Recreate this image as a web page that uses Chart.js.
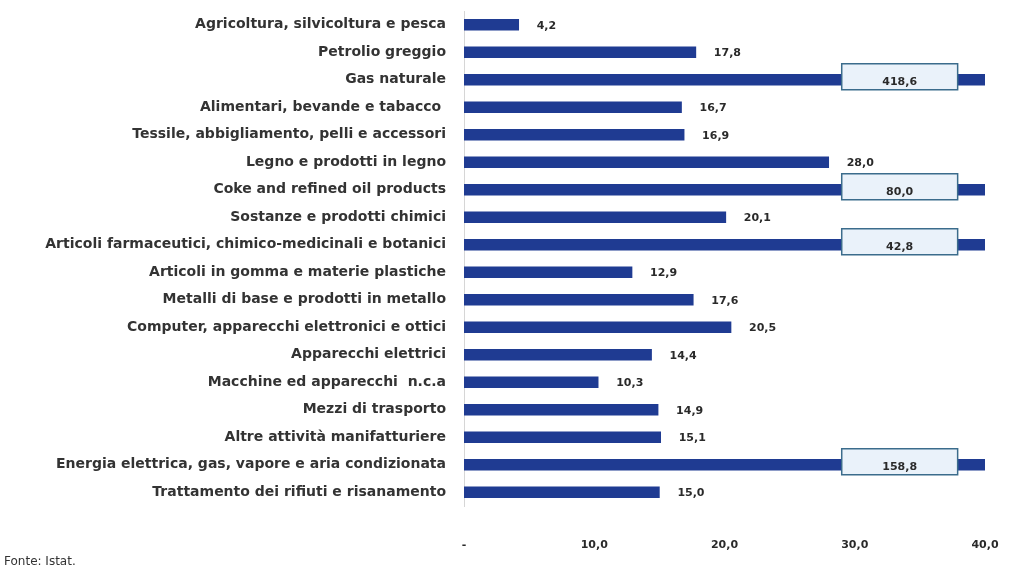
<!DOCTYPE html>
<html>
<head>
<meta charset="utf-8">
<script src="https://cdn.jsdelivr.net/npm/chart.js@4/dist/chart.umd.min.js"></script>
<style>
  html, body { margin: 0; padding: 0; background: #fff; }
  #wrap { position: relative; width: 1025px; height: 571px; }
  #fonte { position: absolute; left: 4px; top: 554px; font: 12px "DejaVu Sans", sans-serif; color: #333; }
</style>
</head>
<body>
<div id="wrap">
  <canvas id="chart"></canvas>
  <div id="fonte">Fonte: Istat.</div>
</div>
<script>
// settori (categorie)
var categories = [
    'Agricoltura, silvicoltura e pesca',
    'Petrolio greggio',
    'Gas naturale',
    'Alimentari, bevande e tabacco ',
    'Tessile, abbigliamento, pelli e accessori',
    'Legno e prodotti in legno',
    'Coke and refined oil products',
    'Sostanze e prodotti chimici',
    'Articoli farmaceutici, chimico-medicinali e botanici',
    'Articoli in gomma e materie plastiche',
    'Metalli di base e prodotti in metallo',
    'Computer, apparecchi elettronici e ottici',
    'Apparecchi elettrici',
    'Macchine ed apparecchi  n.c.a',
    'Mezzi di trasporto',
    'Altre attività manifatturiere',
    'Energia elettrica, gas, vapore e aria condizionata',
    'Trattamento dei rifiuti e risanamento'
];
var values = [4.2, 17.8, 418.6, 16.7, 16.9, 28.0, 80.0, 20.1, 42.8, 12.9, 17.6, 20.5, 14.4, 10.3, 14.9, 15.1, 158.8, 15.0];
var tickValues = [0, 10, 20, 30, 40];
var tickLabels = ['-', '10,0', '20,0', '30,0', '40,0'];
var axisMax = 40;

function fmt(v) {
    return v.toFixed(1).replace('.', ',');
}

// etichette dei valori; box per le barre fuori scala
var valueLabels = {
    id: 'valueLabels',
    afterDatasetsDraw: function(chart) {
        var ctx = chart.ctx;
        var meta = chart.getDatasetMeta(0);
        var x = chart.scales.x;
        ctx.save();
        ctx.font = 'bold 11px "DejaVu Sans", sans-serif';
        ctx.textBaseline = 'middle';
        meta.data.forEach(function(bar, i) {
            var v = values[i];
            if (v <= axisMax) {
                ctx.fillStyle = '#2a2a2a';
                ctx.textAlign = 'left';
                ctx.fillText(fmt(v), bar.x + 18, bar.y + 1);
            } else {
                var left = x.getPixelForValue(29.0);
                var right = x.getPixelForValue(37.9);
                var top = bar.y - 16, h = 26;
                ctx.fillStyle = '#eaf2fa';
                ctx.fillRect(left, top, right - left, h);
                ctx.strokeStyle = '#3b6c8c';
                ctx.lineWidth = 1.5;
                ctx.strokeRect(left, top, right - left, h);
                ctx.fillStyle = '#2a2a2a';
                ctx.textAlign = 'center';
                ctx.fillText(fmt(v), (left + right) / 2, bar.y + 2);
            }
        });
        ctx.restore();
    }
};

var ctx = document.getElementById('chart').getContext('2d');
var chart = new Chart(ctx, {
    type: 'bar',
    data: {
        labels: categories,
        datasets: [{
            data: values,
            backgroundColor: '#1f3b92',
            barThickness: 11
        }]
    },
    options: {
        indexAxis: 'y',
        responsive: true,
        maintainAspectRatio: false,
        animation: false,
        layout: { padding: { top: 11, right: 40, left: 0, bottom: 0 } },
        plugins: {
            legend: { display: false },
            tooltip: { enabled: false }
        },
        scales: {
            x: {
                min: 0,
                max: axisMax,
                afterBuildTicks: function(scale) {
                    scale.ticks = tickValues.map(function(v) { return { value: v }; });
                },
                afterFit: function(scale) {
                    scale.height = 65;
                    scale.paddingLeft = 0;
                    scale.paddingRight = 0;
                },
                grid: { display: false, drawTicks: false },
                border: { display: false },
                ticks: {
                    padding: 33,
                    color: '#2a2a2a',
                    font: { family: 'DejaVu Sans', size: 11, weight: 'bold' },
                    callback: function(v) {
                        var i = tickValues.indexOf(v);
                        return i >= 0 ? tickLabels[i] : '';
                    }
                }
            },
            y: {
                afterFit: function(scale) {
                    scale.width = 464;
                    scale.paddingTop = 0;
                    scale.paddingBottom = 0;
                },
                grid: { display: false, drawTicks: false },
                border: { display: true, color: '#d6d6d6', width: 1 },
                ticks: {
                    padding: 18,
                    color: '#333',
                    font: { family: 'DejaVu Sans', size: 14, weight: 'bold' }
                }
            }
        }
    },
    plugins: [valueLabels]
});
</script>
</body>
</html>
